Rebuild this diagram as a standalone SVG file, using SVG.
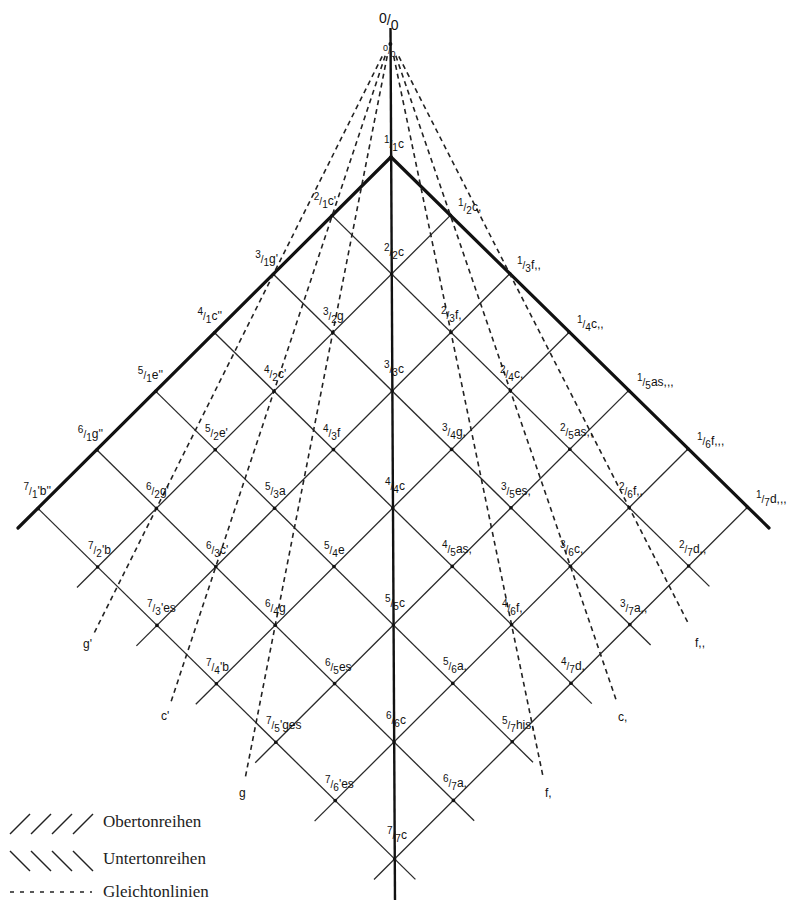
<svg xmlns="http://www.w3.org/2000/svg" width="797" height="900" viewBox="0 0 797 900">
<style>
.bg{fill:#fff}
.g{stroke:#2a2a2a;stroke-width:1.3;fill:none}
.t{stroke:#111;stroke-width:3.2;fill:none;stroke-linecap:round}
.v{stroke:#111;stroke-width:2.4;fill:none}
.d{stroke:#222;stroke-width:1.6;fill:none;stroke-dasharray:5 4}
.dot{fill:#111}
.lb{font-family:"Liberation Sans","DejaVu Sans",sans-serif;font-size:12px;fill:#111}
.s{font-size:10px}
.dl{font-family:"Liberation Sans","DejaVu Sans",sans-serif;font-size:12px;fill:#111}
.lg{font-family:"Liberation Serif","DejaVu Serif",serif;font-size:17px;fill:#222}
.ll{stroke:#222;stroke-width:1.5;fill:none}
</style>
<rect class="bg" x="0" y="0" width="797" height="900"/>
<g id="connectors">
  <line class="v" x1="390.5" y1="28" x2="395" y2="900"/>
  <line class="t" x1="391" y1="157" x2="18" y2="528"/>
  <line class="t" x1="391" y1="157" x2="769" y2="528"/>
  <line class="g" x1="332.2" y1="215.6" x2="709.4" y2="586.4"/>
  <line class="g" x1="273.4" y1="274.2" x2="650.6" y2="645"/>
  <line class="g" x1="214.6" y1="332.8" x2="591.8" y2="703.6"/>
  <line class="g" x1="155.8" y1="391.4" x2="533" y2="762.2"/>
  <line class="g" x1="97" y1="450" x2="474.2" y2="820.8"/>
  <line class="g" x1="38.2" y1="508.6" x2="415.4" y2="879.4"/>
  <line class="g" x1="450.4" y1="215.4" x2="77" y2="587.5"/>
  <line class="g" x1="509.8" y1="273.8" x2="136.4" y2="645.9"/>
  <line class="g" x1="569.2" y1="332.2" x2="195.8" y2="704.3"/>
  <line class="g" x1="628.6" y1="390.6" x2="255.2" y2="762.7"/>
  <line class="g" x1="688" y1="449" x2="314.6" y2="821.1"/>
  <line class="g" x1="747.4" y1="507.4" x2="374" y2="879.5"/>
  <line class="d" x1="382.2" y1="56.4" x2="94.4" y2="632.5"/>
  <line class="d" x1="385.2" y1="55.8" x2="170.6" y2="703"/>
  <line class="d" x1="387.2" y1="56.1" x2="245.4" y2="777"/>
  <line class="d" x1="393.7" y1="56.1" x2="542.7" y2="775"/>
  <line class="d" x1="395.8" y1="55.8" x2="617.2" y2="703"/>
  <line class="d" x1="398.8" y1="56.4" x2="689.1" y2="625"/>
</g>
<g id="top-label"><text class="lb" x="379" y="25" style="font-size:14px"><tspan dy="-2">0</tspan><tspan dy="2">/</tspan><tspan dy="5">0</tspan></text></g>
<g id="origin-label"><circle class="dot" cx="390.4" cy="44" r="2"/><text class="lb" x="383" y="54" style="font-size:9px"><tspan dy="-3">0</tspan><tspan dy="3">/</tspan><tspan dy="3">0</tspan></text></g>
<g id="line-labels">
  <text class="dl" x="83" y="648">g'</text>
  <text class="dl" x="161" y="720">c'</text>
  <text class="dl" x="239" y="797">g</text>
  <text class="dl" x="545" y="797">f,</text>
  <text class="dl" x="618" y="721">c,</text>
  <text class="dl" x="695" y="647">f,,</text>
</g>
<g id="n1-1"><circle class="dot" cx="391" cy="157" r="1.8"/><text class="lb" x="384" y="148"><tspan class="s" dy="-5">1</tspan><tspan class="s" dy="5">/</tspan><tspan class="s" dy="3">1</tspan><tspan dy="-3">c</tspan></text></g>
<g id="n2-1"><circle class="dot" cx="332.2" cy="215.6" r="1.8"/><text class="lb" text-anchor="end" x="336" y="205"><tspan class="s" dy="-5">2</tspan><tspan class="s" dy="5">/</tspan><tspan class="s" dy="3">1</tspan><tspan dy="-3">c'</tspan></text></g>
<g id="n3-1"><circle class="dot" cx="273.4" cy="274.2" r="1.8"/><text class="lb" text-anchor="end" x="278" y="263"><tspan class="s" dy="-5">3</tspan><tspan class="s" dy="5">/</tspan><tspan class="s" dy="3">1</tspan><tspan dy="-3">g'</tspan></text></g>
<g id="n4-1"><circle class="dot" cx="214.6" cy="332.8" r="1.8"/><text class="lb" text-anchor="end" x="222" y="320"><tspan class="s" dy="-5">4</tspan><tspan class="s" dy="5">/</tspan><tspan class="s" dy="3">1</tspan><tspan dy="-3">c''</tspan></text></g>
<g id="n5-1"><circle class="dot" cx="155.8" cy="391.4" r="1.8"/><text class="lb" text-anchor="end" x="163" y="379"><tspan class="s" dy="-5">5</tspan><tspan class="s" dy="5">/</tspan><tspan class="s" dy="3">1</tspan><tspan dy="-3">e''</tspan></text></g>
<g id="n6-1"><circle class="dot" cx="97" cy="450" r="1.8"/><text class="lb" text-anchor="end" x="103" y="438"><tspan class="s" dy="-5">6</tspan><tspan class="s" dy="5">/</tspan><tspan class="s" dy="3">1</tspan><tspan dy="-3">g''</tspan></text></g>
<g id="n7-1"><circle class="dot" cx="38.2" cy="508.6" r="1.8"/><text class="lb" text-anchor="end" x="51" y="495"><tspan class="s" dy="-5">7</tspan><tspan class="s" dy="5">/</tspan><tspan class="s" dy="3">1</tspan><tspan dy="-3">'b''</tspan></text></g>
<g id="n1-2"><circle class="dot" cx="450.4" cy="215.4" r="1.8"/><text class="lb" x="458" y="211"><tspan class="s" dy="-5">1</tspan><tspan class="s" dy="5">/</tspan><tspan class="s" dy="3">2</tspan><tspan dy="-3">c,</tspan></text></g>
<g id="n1-3"><circle class="dot" cx="509.8" cy="273.8" r="1.8"/><text class="lb" x="517" y="269"><tspan class="s" dy="-5">1</tspan><tspan class="s" dy="5">/</tspan><tspan class="s" dy="3">3</tspan><tspan dy="-3">f,,</tspan></text></g>
<g id="n1-4"><circle class="dot" cx="569.2" cy="332.2" r="1.8"/><text class="lb" x="577" y="328"><tspan class="s" dy="-5">1</tspan><tspan class="s" dy="5">/</tspan><tspan class="s" dy="3">4</tspan><tspan dy="-3">c,,</tspan></text></g>
<g id="n1-5"><circle class="dot" cx="628.6" cy="390.6" r="1.8"/><text class="lb" x="637" y="386"><tspan class="s" dy="-5">1</tspan><tspan class="s" dy="5">/</tspan><tspan class="s" dy="3">5</tspan><tspan dy="-3">as,,,</tspan></text></g>
<g id="n1-6"><circle class="dot" cx="688" cy="449" r="1.8"/><text class="lb" x="697" y="445"><tspan class="s" dy="-5">1</tspan><tspan class="s" dy="5">/</tspan><tspan class="s" dy="3">6</tspan><tspan dy="-3">f,,,</tspan></text></g>
<g id="n1-7"><circle class="dot" cx="747.4" cy="507.4" r="1.8"/><text class="lb" x="756" y="503"><tspan class="s" dy="-5">1</tspan><tspan class="s" dy="5">/</tspan><tspan class="s" dy="3">7</tspan><tspan dy="-3">d,,,</tspan></text></g>
<g id="n2-2"><circle class="dot" cx="391.6" cy="274" r="1.8"/><text class="lb" x="384" y="256"><tspan class="s" dy="-5">2</tspan><tspan class="s" dy="5">/</tspan><tspan class="s" dy="3">2</tspan><tspan dy="-3">c</tspan></text></g>
<g id="n3-3"><circle class="dot" cx="392.2" cy="391" r="1.8"/><text class="lb" x="384" y="373"><tspan class="s" dy="-5">3</tspan><tspan class="s" dy="5">/</tspan><tspan class="s" dy="3">3</tspan><tspan dy="-3">c</tspan></text></g>
<g id="n4-4"><circle class="dot" cx="392.8" cy="508" r="1.8"/><text class="lb" x="385" y="490"><tspan class="s" dy="-5">4</tspan><tspan class="s" dy="5">/</tspan><tspan class="s" dy="3">4</tspan><tspan dy="-3">c</tspan></text></g>
<g id="n5-5"><circle class="dot" cx="393.4" cy="625" r="1.8"/><text class="lb" x="385" y="607"><tspan class="s" dy="-5">5</tspan><tspan class="s" dy="5">/</tspan><tspan class="s" dy="3">5</tspan><tspan dy="-3">c</tspan></text></g>
<g id="n6-6"><circle class="dot" cx="394" cy="742" r="1.8"/><text class="lb" x="386" y="724"><tspan class="s" dy="-5">6</tspan><tspan class="s" dy="5">/</tspan><tspan class="s" dy="3">6</tspan><tspan dy="-3">c</tspan></text></g>
<g id="n7-7"><circle class="dot" cx="394.6" cy="859" r="1.8"/><text class="lb" x="387" y="839"><tspan class="s" dy="-5">7</tspan><tspan class="s" dy="5">/</tspan><tspan class="s" dy="3">7</tspan><tspan dy="-3">c</tspan></text></g>
<g id="n2-3"><circle class="dot" cx="451" cy="332.4" r="1.8"/><text class="lb" x="441" y="319"><tspan class="s" dy="-5">2</tspan><tspan class="s" dy="5">/</tspan><tspan class="s" dy="3">3</tspan><tspan dy="-3">f,</tspan></text></g>
<g id="n2-4"><circle class="dot" cx="510.4" cy="390.8" r="1.8"/><text class="lb" x="500" y="378"><tspan class="s" dy="-5">2</tspan><tspan class="s" dy="5">/</tspan><tspan class="s" dy="3">4</tspan><tspan dy="-3">c,</tspan></text></g>
<g id="n2-5"><circle class="dot" cx="569.8" cy="449.2" r="1.8"/><text class="lb" x="560" y="436"><tspan class="s" dy="-5">2</tspan><tspan class="s" dy="5">/</tspan><tspan class="s" dy="3">5</tspan><tspan dy="-3">as,,</tspan></text></g>
<g id="n2-6"><circle class="dot" cx="629.2" cy="507.6" r="1.8"/><text class="lb" x="619" y="495"><tspan class="s" dy="-5">2</tspan><tspan class="s" dy="5">/</tspan><tspan class="s" dy="3">6</tspan><tspan dy="-3">f,,</tspan></text></g>
<g id="n2-7"><circle class="dot" cx="688.6" cy="566" r="1.8"/><text class="lb" x="679" y="553"><tspan class="s" dy="-5">2</tspan><tspan class="s" dy="5">/</tspan><tspan class="s" dy="3">7</tspan><tspan dy="-3">d,,</tspan></text></g>
<g id="n3-2"><circle class="dot" cx="332.8" cy="332.6" r="1.8"/><text class="lb" x="323" y="320"><tspan class="s" dy="-5">3</tspan><tspan class="s" dy="5">/</tspan><tspan class="s" dy="3">2</tspan><tspan dy="-3">g</tspan></text></g>
<g id="n3-4"><circle class="dot" cx="451.6" cy="449.4" r="1.8"/><text class="lb" x="442" y="436"><tspan class="s" dy="-5">3</tspan><tspan class="s" dy="5">/</tspan><tspan class="s" dy="3">4</tspan><tspan dy="-3">g,</tspan></text></g>
<g id="n3-5"><circle class="dot" cx="511" cy="507.8" r="1.8"/><text class="lb" x="501" y="495"><tspan class="s" dy="-5">3</tspan><tspan class="s" dy="5">/</tspan><tspan class="s" dy="3">5</tspan><tspan dy="-3">es,</tspan></text></g>
<g id="n3-6"><circle class="dot" cx="570.4" cy="566.2" r="1.8"/><text class="lb" x="560" y="553"><tspan class="s" dy="-5">3</tspan><tspan class="s" dy="5">/</tspan><tspan class="s" dy="3">6</tspan><tspan dy="-3">c,</tspan></text></g>
<g id="n3-7"><circle class="dot" cx="629.8" cy="624.6" r="1.8"/><text class="lb" x="620" y="612"><tspan class="s" dy="-5">3</tspan><tspan class="s" dy="5">/</tspan><tspan class="s" dy="3">7</tspan><tspan dy="-3">a,,</tspan></text></g>
<g id="n4-2"><circle class="dot" cx="274" cy="391.2" r="1.8"/><text class="lb" x="264" y="378"><tspan class="s" dy="-5">4</tspan><tspan class="s" dy="5">/</tspan><tspan class="s" dy="3">2</tspan><tspan dy="-3">c'</tspan></text></g>
<g id="n4-3"><circle class="dot" cx="333.4" cy="449.6" r="1.8"/><text class="lb" x="323" y="437"><tspan class="s" dy="-5">4</tspan><tspan class="s" dy="5">/</tspan><tspan class="s" dy="3">3</tspan><tspan dy="-3">f</tspan></text></g>
<g id="n4-5"><circle class="dot" cx="452.2" cy="566.4" r="1.8"/><text class="lb" x="442" y="553"><tspan class="s" dy="-5">4</tspan><tspan class="s" dy="5">/</tspan><tspan class="s" dy="3">5</tspan><tspan dy="-3">as,</tspan></text></g>
<g id="n4-6"><circle class="dot" cx="511.6" cy="624.8" r="1.8"/><text class="lb" x="502" y="612"><tspan class="s" dy="-5">4</tspan><tspan class="s" dy="5">/</tspan><tspan class="s" dy="3">6</tspan><tspan dy="-3">f,</tspan></text></g>
<g id="n4-7"><circle class="dot" cx="571" cy="683.2" r="1.8"/><text class="lb" x="561" y="670"><tspan class="s" dy="-5">4</tspan><tspan class="s" dy="5">/</tspan><tspan class="s" dy="3">7</tspan><tspan dy="-3">d,</tspan></text></g>
<g id="n5-2"><circle class="dot" cx="215.2" cy="449.8" r="1.8"/><text class="lb" x="205" y="437"><tspan class="s" dy="-5">5</tspan><tspan class="s" dy="5">/</tspan><tspan class="s" dy="3">2</tspan><tspan dy="-3">e'</tspan></text></g>
<g id="n5-3"><circle class="dot" cx="274.6" cy="508.2" r="1.8"/><text class="lb" x="265" y="495"><tspan class="s" dy="-5">5</tspan><tspan class="s" dy="5">/</tspan><tspan class="s" dy="3">3</tspan><tspan dy="-3">a</tspan></text></g>
<g id="n5-4"><circle class="dot" cx="334" cy="566.6" r="1.8"/><text class="lb" x="324" y="554"><tspan class="s" dy="-5">5</tspan><tspan class="s" dy="5">/</tspan><tspan class="s" dy="3">4</tspan><tspan dy="-3">e</tspan></text></g>
<g id="n5-6"><circle class="dot" cx="452.8" cy="683.4" r="1.8"/><text class="lb" x="443" y="670"><tspan class="s" dy="-5">5</tspan><tspan class="s" dy="5">/</tspan><tspan class="s" dy="3">6</tspan><tspan dy="-3">a,</tspan></text></g>
<g id="n5-7"><circle class="dot" cx="512.2" cy="741.8" r="1.8"/><text class="lb" x="502" y="729"><tspan class="s" dy="-5">5</tspan><tspan class="s" dy="5">/</tspan><tspan class="s" dy="3">7</tspan><tspan dy="-3">his,</tspan></text></g>
<g id="n6-2"><circle class="dot" cx="156.4" cy="508.4" r="1.8"/><text class="lb" x="146" y="495"><tspan class="s" dy="-5">6</tspan><tspan class="s" dy="5">/</tspan><tspan class="s" dy="3">2</tspan><tspan dy="-3">g'</tspan></text></g>
<g id="n6-3"><circle class="dot" cx="215.8" cy="566.8" r="1.8"/><text class="lb" x="206" y="554"><tspan class="s" dy="-5">6</tspan><tspan class="s" dy="5">/</tspan><tspan class="s" dy="3">3</tspan><tspan dy="-3">c'</tspan></text></g>
<g id="n6-4"><circle class="dot" cx="275.2" cy="625.2" r="1.8"/><text class="lb" x="265" y="612"><tspan class="s" dy="-5">6</tspan><tspan class="s" dy="5">/</tspan><tspan class="s" dy="3">4</tspan><tspan dy="-3">g</tspan></text></g>
<g id="n6-5"><circle class="dot" cx="334.6" cy="683.6" r="1.8"/><text class="lb" x="325" y="671"><tspan class="s" dy="-5">6</tspan><tspan class="s" dy="5">/</tspan><tspan class="s" dy="3">5</tspan><tspan dy="-3">es</tspan></text></g>
<g id="n6-7"><circle class="dot" cx="453.4" cy="800.4" r="1.8"/><text class="lb" x="443" y="787"><tspan class="s" dy="-5">6</tspan><tspan class="s" dy="5">/</tspan><tspan class="s" dy="3">7</tspan><tspan dy="-3">a,</tspan></text></g>
<g id="n7-2"><circle class="dot" cx="97.6" cy="567" r="1.8"/><text class="lb" x="88" y="554"><tspan class="s" dy="-5">7</tspan><tspan class="s" dy="5">/</tspan><tspan class="s" dy="3">2</tspan><tspan dy="-3">'b</tspan></text></g>
<g id="n7-3"><circle class="dot" cx="157" cy="625.4" r="1.8"/><text class="lb" x="147" y="612"><tspan class="s" dy="-5">7</tspan><tspan class="s" dy="5">/</tspan><tspan class="s" dy="3">3</tspan><tspan dy="-3">'es</tspan></text></g>
<g id="n7-4"><circle class="dot" cx="216.4" cy="683.8" r="1.8"/><text class="lb" x="206" y="671"><tspan class="s" dy="-5">7</tspan><tspan class="s" dy="5">/</tspan><tspan class="s" dy="3">4</tspan><tspan dy="-3">'b</tspan></text></g>
<g id="n7-5"><circle class="dot" cx="275.8" cy="742.2" r="1.8"/><text class="lb" x="266" y="729"><tspan class="s" dy="-5">7</tspan><tspan class="s" dy="5">/</tspan><tspan class="s" dy="3">5</tspan><tspan dy="-3">'ges</tspan></text></g>
<g id="n7-6"><circle class="dot" cx="335.2" cy="800.6" r="1.8"/><text class="lb" x="325" y="788"><tspan class="s" dy="-5">7</tspan><tspan class="s" dy="5">/</tspan><tspan class="s" dy="3">6</tspan><tspan dy="-3">'es</tspan></text></g>
<g id="legend">
  <line class="ll" x1="10" y1="834" x2="30" y2="814"/>
  <line class="ll" x1="31" y1="834" x2="51" y2="814"/>
  <line class="ll" x1="52" y1="834" x2="72" y2="814"/>
  <line class="ll" x1="73" y1="834" x2="93" y2="814"/>
  <text class="lg" x="103" y="827">Obertonreihen</text>
  <line class="ll" x1="10" y1="851" x2="30" y2="871"/>
  <line class="ll" x1="31" y1="851" x2="51" y2="871"/>
  <line class="ll" x1="52" y1="851" x2="72" y2="871"/>
  <line class="ll" x1="73" y1="851" x2="93" y2="871"/>
  <text class="lg" x="103" y="864">Untertonreihen</text>
  <line class="ll" x1="10" y1="892" x2="92" y2="892" style="stroke-dasharray:4 6"/>
  <text class="lg" x="103" y="897">Gleichtonlinien</text>
</g>
</svg>
